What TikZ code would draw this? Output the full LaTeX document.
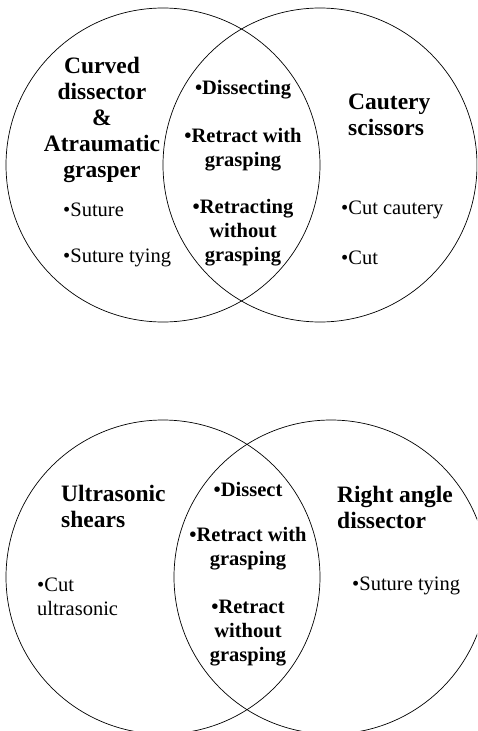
\documentclass[tikz,border=0pt]{standalone}
\usepackage{fontspec}
\setmainfont{Liberation Serif}
\usepackage{tikz}

\begin{document}
\begin{tikzpicture}[x=1pt, y=-1pt,
  ring/.style={draw, line width=0.7pt},
  head/.style={inner sep=0pt, font=\fontsize{23.5}{26}\selectfont\bfseries},
  both/.style={inner sep=0pt, align=center, font=\fontsize{20.5}{24}\selectfont\bfseries},
  item/.style={inner sep=0pt, anchor=west, align=left, font=\fontsize{20.5}{24}\selectfont}]
  \useasboundingbox (0,0) rectangle (477,731);
  \clip (0,0) rectangle (477,731);

  % Top diagram
  \begin{scope}
    \draw[ring] (163,165) circle[radius=157];
    \draw[ring] (320,165) circle[radius=157];
    \node[head, align=center] (curved) at (102,120) {Curved\\dissector\\\&\\Atraumatic\\grasper};
    \node[head, align=left, anchor=west] (cautery) at (348,115) {Cautery\\scissors};
    \node[both] (dissecting) at (243,90) {\textbullet Dissecting};
    \node[both] (retractwith) at (243,150) {\textbullet Retract with\\grasping};
    \node[both] (retractingwithout) at (243,233) {\textbullet Retracting\\without\\grasping};
    \node[item] (suture) at (63,210) {\textbullet Suture};
    \node[item] (suturetying) at (63,258) {\textbullet Suture tying};
    \node[item] (cutcautery) at (341,210) {\textbullet Cut cautery};
    \node[item] (cut) at (341,258) {\textbullet Cut};
  \end{scope}

  % Bottom diagram
  \begin{scope}
    \draw[ring] (163,577) circle[radius=157];
    \draw[ring] (331,577) circle[radius=157];
    \node[head, align=left, anchor=west] (ultrasonic) at (61,506) {Ultrasonic\\shears};
    \node[head, align=left, anchor=west] (rightangle) at (337,507) {Right angle\\dissector};
    \node[both] (dissect) at (248,489) {\textbullet Dissect};
    \node[both] (retractwith2) at (248,549) {\textbullet Retract with\\grasping};
    \node[both] (retractwithout) at (248,633) {\textbullet Retract\\without\\grasping};
    \node[item] (cutultrasonic) at (37,597) {\textbullet Cut\\ultrasonic};
    \node[item] (suturetying2) at (352,586) {\textbullet Suture tying};
  \end{scope}
\end{tikzpicture}
\end{document}
